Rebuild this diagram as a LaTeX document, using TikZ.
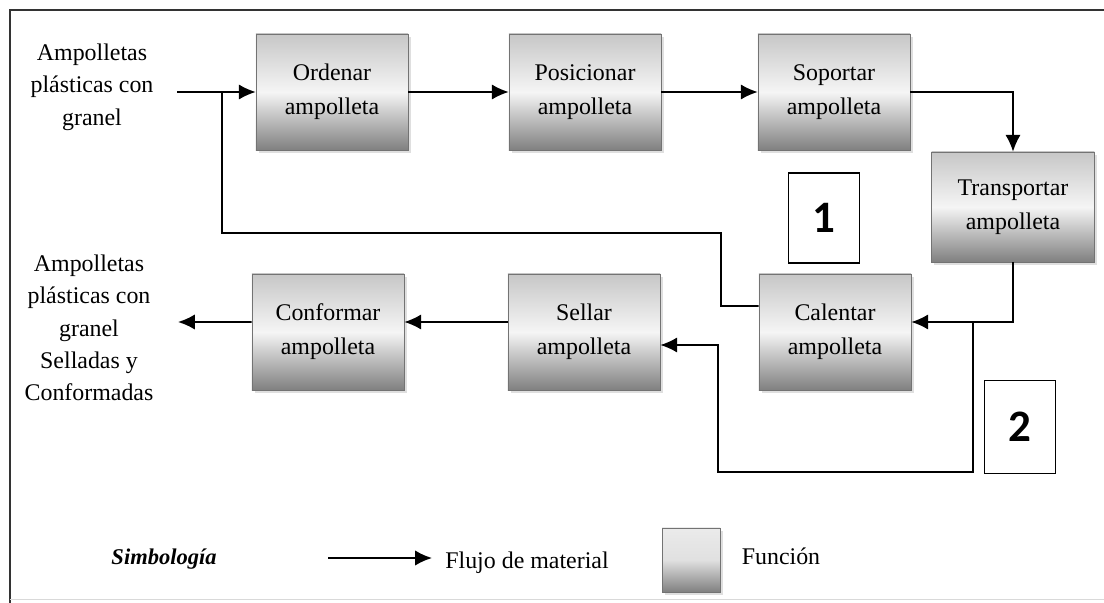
\documentclass[tikz,border=0pt]{standalone}
\usepackage{fontspec}
\setmainfont{Liberation Serif}
\newfontfamily\numfont{Carlito}
\usetikzlibrary{arrows.meta,shadows}
\begin{document}
\begin{tikzpicture}[x=0.025cm,y=-0.025cm,
    func/.style={draw=black!55,top color=black!22,bottom color=black!50,middle color=black!4,
        minimum width=3.8cm,minimum height=2.9cm,align=center,font=\fontsize{17}{24}\selectfont,
        drop shadow={opacity=0.25,shadow xshift=2pt,shadow yshift=-2pt}},
    numbox/.style={draw,thick,minimum width=1.78cm,minimum height=2.25cm,font=\numfont\bfseries\fontsize{32}{36}\selectfont},
    lbl/.style={align=center,font=\fontsize{17}{23}\selectfont},
    flow/.style={line width=1.2pt,-{Latex[length=4.2mm,width=3.8mm]}},
    line/.style={line width=1.2pt}]
                \useasboundingbox (0,0) rectangle (1104,603);
                \draw[line width=1pt,black!80] (1104,10) -- (10,10) -- (10,603);
                \draw[black!15] (10,599) -- (1104,599);
                \node[lbl] (inp) at (92,87) {Ampolletas\\plásticas con\\granel};
                \node[lbl] (outp) at (89,328) {Ampolletas\\plásticas con\\granel\\Selladas y\\Conformadas};
                \node[func] (ord) at (332,92) {Ordenar\\ampolleta};
                \node[func] (pos) at (585,92) {Posicionar\\ampolleta};
                \node[func] (sop) at (834,92) {Soportar\\ampolleta};
                \node[func,minimum width=4.07cm,minimum height=2.75cm] (tra) at (1013,207) {Transportar\\ampolleta};
                \node[func] (cal) at (835,332) {Calentar\\ampolleta};
                \node[func] (sel) at (584,332) {Sellar\\ampolleta};
                \node[func] (con) at (328,332) {Conformar\\ampolleta};
                \node[numbox] (n1) at (824,218) {1};
                \node[numbox,minimum height=2.32cm] (n2) at (1020,427) {2};
                \coordinate (inend) at (177,92);
                \coordinate (junc) at (222,92);
                \coordinate (outend) at (178,322);
                \coordinate (split) at (973,322);
                \draw[flow] (inend) -- (ord.west);
                \draw[flow] (ord) -- (pos);
                \draw[flow] (pos) -- (sop);
                \draw[flow] (sop.east) -| (tra.north);
                \draw[flow] (tra.south) |- ([yshift=0.25cm]cal.east);
                \draw[line] ([yshift=0.65cm]cal.west) -- (721,306) |- (222,233) -- (junc);
                \draw[flow] (split) |- (718,472) |- ([yshift=-0.325cm]sel.east);
                \draw[flow] ([yshift=0.25cm]sel.west) -- ([yshift=0.25cm]con.east);
                \draw[flow] ([yshift=0.25cm]con.west) -- (outend);
                \node[font=\fontsize{16}{19}\selectfont\bfseries\itshape] (simb) at (164,559) {Simbología};
                \coordinate (la) at (328,558);
                \coordinate (lb) at (432,558);
                \draw[flow] (la) -- (lb);
                \node[font=\fontsize{17}{20}\selectfont] (fluj) at (527,563) {Flujo de material};
                \node[func,minimum width=1.45cm,minimum height=1.6cm,top color=black!8,middle color=black!12] (leg) at (691,560) {};
                \node[font=\fontsize{17}{20}\selectfont] (fun) at (781,556) {Función};
            \end{tikzpicture}
\end{document}
